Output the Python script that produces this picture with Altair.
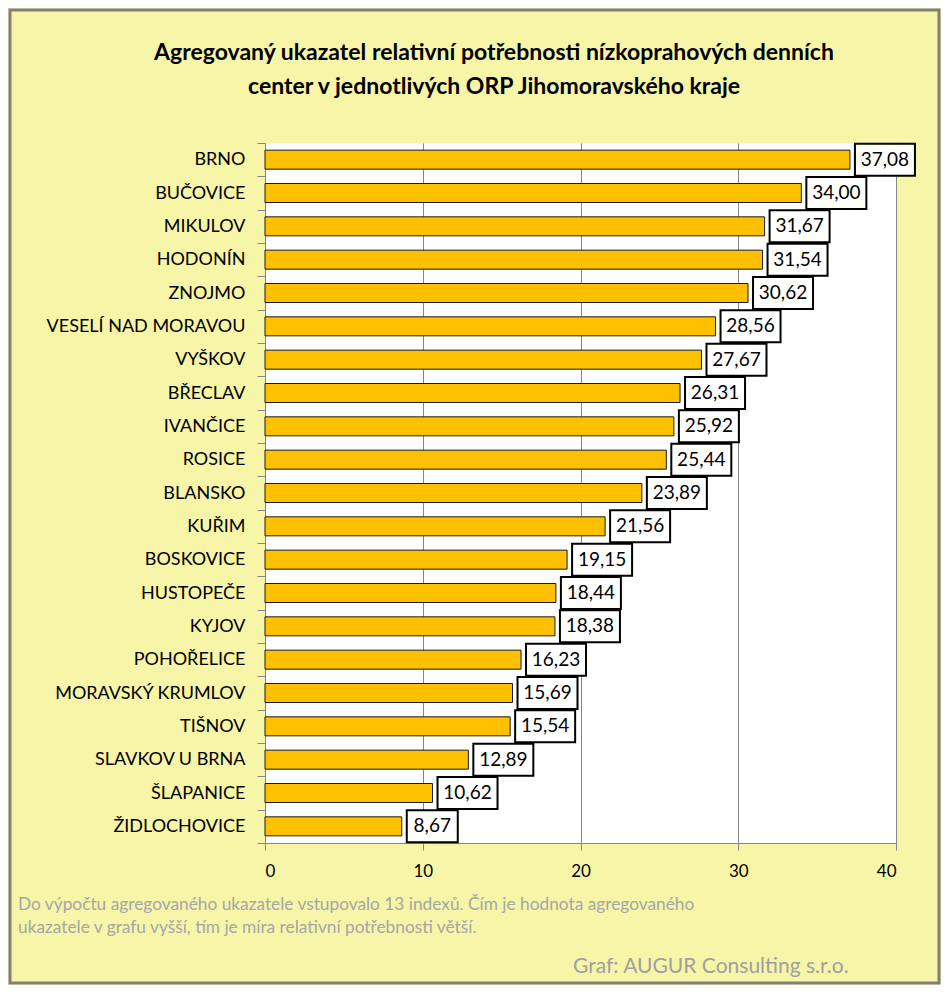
import altair as alt
import pandas as pd

categories = ["BRNO", "BUČOVICE", "MIKULOV", "HODONÍN", "ZNOJMO",
              "VESELÍ NAD MORAVOU", "VYŠKOV", "BŘECLAV", "IVANČICE", "ROSICE",
              "BLANSKO", "KUŘIM", "BOSKOVICE", "HUSTOPEČE", "KYJOV",
              "POHOŘELICE", "MORAVSKÝ KRUMLOV", "TIŠNOV", "SLAVKOV U BRNA",
              "ŠLAPANICE", "ŽIDLOCHOVICE"]
values = [37.08, 34.00, 31.67, 31.54, 30.62, 28.56, 27.67, 26.31, 25.92, 25.44,
          23.89, 21.56, 19.15, 18.44, 18.38, 16.23, 15.69, 15.54, 12.89, 10.62, 8.67]
x_ticks = [0, 10, 20, 30, 40]

title_lines = ["Agregovaný ukazatel relativní potřebnosti nízkoprahových  denních",
               "center v jednotlivých ORP Jihomoravského  kraje"]
note_lines = ["Do výpočtu agregovaného ukazatele vstupovalo 13 indexů. Čím je hodnota agregovaného",
              "ukazatele v grafu vyšší, tím je míra relativní potřebnosti větší."]
credit = "Graf: AUGUR Consulting s.r.o."

df = pd.DataFrame({"orp": categories, "value": values})
df["label"] = df["value"].map(lambda v: f"{v:.2f}".replace(".", ","))
df["nch"] = df["label"].str.len()

FONT = "Lato"
GRAY = "#868686"

y_enc = alt.Y("orp:N", sort=categories,
              scale=alt.Scale(paddingInner=0, paddingOuter=0),
              axis=alt.Axis(title=None, tickBand="extent", tickSize=8, tickColor=GRAY,
                            domainColor=GRAY, labelFont=FONT, labelFontSize=18,
                            labelColor="black", labelPadding=12, labelLimit=400,
                            grid=False))
x_enc = alt.X("value:Q", scale=alt.Scale(domain=[0, 40], nice=False),
              axis=alt.Axis(title=None, values=x_ticks, grid=True, gridColor=GRAY,
                            tickSize=7, tickColor=GRAY, domainColor=GRAY,
                            labelFont=FONT, labelFontSize=17, labelColor="black",
                            labelPadding=13))

base = alt.Chart(df)
layers = [
    base.mark_bar(height=19, fill="#FFC000", stroke="#1a1a1a", strokeWidth=1)
        .encode(x=x_enc, y=y_enc)
]
for n, w in [(5, 60), (4, 51)]:
    sub = base.transform_filter(f"datum.nch == {n}")
    layers.append(
        sub.mark_bar(height=32, xOffset=5, x2Offset=5 + w, fill="white",
                     stroke="black", strokeWidth=2)
        .encode(x="value:Q", x2="value", y=alt.Y("orp:N", sort=categories))
    )
    layers.append(
        sub.mark_text(dx=5 + w / 2, font=FONT, fontSize=19, color="black")
        .encode(x="value:Q", y=alt.Y("orp:N", sort=categories), text="label:N")
    )

one = pd.DataFrame({"a": [0]})
layers.append(
    alt.Chart(one).mark_text(font=FONT, fontSize=23, fontWeight="bold", color="black",
                             align="center", baseline="middle", lineBreak="\n",
                             lineHeight=34)
    .encode(x=alt.value(229), y=alt.value(-90), text=alt.value("\n".join(title_lines)))
)
layers.append(
    alt.Chart(one).mark_text(font=FONT, fontSize=17.3, color="#A6A6A6", align="left",
                             baseline="middle", lineBreak="\n", lineHeight=23)
    .encode(x=alt.value(-247), y=alt.value(762), text=alt.value("\n".join(note_lines)))
)
layers.append(
    alt.Chart(one).mark_text(font=FONT, fontSize=21, color="#A0A0A0", align="left",
                             baseline="middle")
    .encode(x=alt.value(308), y=alt.value(824), text=alt.value(credit))
)
layers.append(
    alt.Chart(one).mark_rect(fill="transparent", stroke="#7F7F7F", strokeWidth=3)
    .encode(x=alt.value(-255), x2=alt.value(674), y=alt.value(-133), y2=alt.value(840))
)

chart = alt.layer(*layers).properties(
    width=631, height=700,
    autosize=alt.AutoSizeParams(type="none"),
    padding={"left": 257, "top": 135, "right": 45, "bottom": 142},
    background="#F7F5A8",
).configure_view(fill="white", stroke="transparent")

chart.save("out.html", embed_options={"renderer": "svg", "actions": False})
